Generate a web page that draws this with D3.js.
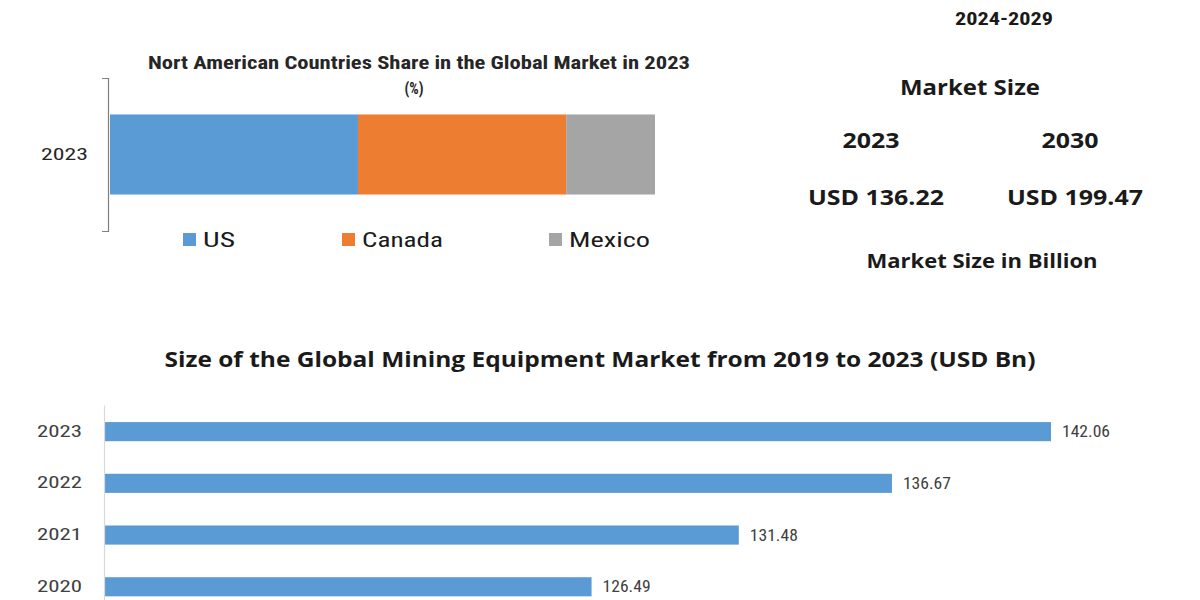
<!DOCTYPE html>
<html>
<head>
<meta charset="utf-8">
<script src="https://cdn.jsdelivr.net/npm/d3@7"></script>
<style>
  html, body { margin: 0; padding: 0; background: #ffffff; }
  svg { display: block; }
</style>
</head>
<body>
<svg id="chart" width="1200" height="600"></svg>
<script>
// ---------- data ----------
const shareYears = ["2023"];
const shareSeries = ["US", "Canada", "Mexico"];
const shareValues = [45.5, 38.2, 16.3];           // % share in 2023
const shareColors = ["#5B9BD5", "#ED7D31", "#A5A5A5"];

const sizeYears = ["2023", "2022", "2021", "2020"];
const sizeValues = [142.06, 136.67, 131.48, 126.49];   // USD Bn
const sizeLabels = ["142.06", "136.67", "131.48", "126.49"];

const periodLabel = "2024-2029";
const marketYears = ["2023", "2030"];
const marketValues = ["USD 136.22", "USD 199.47"];

// ---------- setup ----------
const svg = d3.select("#chart");
const narrow = "'Liberation Sans Narrow', 'Roboto Condensed', 'Arial Narrow', 'Liberation Sans', sans-serif";
const wide = "'Open Sans', 'Noto Sans', sans-serif";

function txt(g, s, x, y, opt) {
  const t = g.append("text")
    .attr("x", x).attr("y", y)
    .attr("text-anchor", opt.anchor || "middle")
    .attr("dominant-baseline", "central")
    .attr("font-family", opt.family || narrow)
    .attr("font-size", opt.size)
    .attr("font-weight", opt.weight || "normal")
    .attr("fill", opt.fill || "#1a1a1a")
    .text(s);
  if (opt.len) t.attr("textLength", opt.len).attr("lengthAdjust", "spacingAndGlyphs");
  return t;
}

// ---------- top: stacked share bar ----------
const gTop = svg.append("g");
const xs = d3.scaleLinear().domain([0, 100]).range([110, 655]);
const ys = d3.scaleBand().domain(shareYears).range([78, 231]).paddingInner(0.313).paddingOuter(0.313);

const rows = [Object.fromEntries(shareSeries.map((s, i) => [s, shareValues[i]]))];
rows[0].year = shareYears[0];
const stacked = d3.stack().keys(shareSeries)(rows);

gTop.selectAll("g.layer").data(stacked).join("g")
  .attr("class", "layer")
  .attr("fill", (d, i) => shareColors[i])
  .selectAll("rect").data(d => d).join("rect")
  .attr("x", d => xs(d[0]))
  .attr("width", d => xs(d[1]) - xs(d[0]))
  .attr("y", d => ys(d.data.year))
  .attr("height", ys.bandwidth());

const yAxisTop = gTop.append("g").attr("transform", `translate(${xs(0) - 2},0)`)
  .call(d3.axisLeft(ys).tickSizeInner(0).tickSizeOuter(6).tickPadding(20));
yAxisTop.select(".domain").attr("stroke", "#7f7f7f").attr("stroke-width", 1.2);
yAxisTop.selectAll("text")
  .attr("font-family", narrow).attr("font-size", 17).attr("fill", "#262626")
  .attr("textLength", 47).attr("lengthAdjust", "spacingAndGlyphs");

txt(gTop, "Nort American Countries Share in the Global Market in 2023", 419, 62,
  { size: 19, weight: "bold", len: 542, fill: "#262626" });
txt(gTop, "(%)", 414, 88, { size: 16, weight: "bold", len: 19, fill: "#262626" });

// legend
const legendX = [183, 342, 549];
const legendTextW = [32, 81, 81];
const leg = gTop.selectAll("g.leg").data(shareSeries).join("g").attr("class", "leg")
  .attr("transform", (d, i) => `translate(${legendX[i]},240)`);
leg.append("rect").attr("x", 0).attr("y", -7).attr("width", 13).attr("height", 13)
  .attr("fill", (d, i) => shareColors[i]);
leg.each(function (d, i) {
  txt(d3.select(this), d, 20, 0, { size: 21, anchor: "start", len: legendTextW[i], fill: "#1a1a1a" });
});

// ---------- right panel ----------
const gRight = svg.append("g");
txt(gRight, periodLabel, 1004, 18, { size: 18, weight: "bold", len: 98 });
txt(gRight, "Market Size", 970, 87, { family: wide, size: 21, weight: "bold", len: 140 });
const mx = [871, 1070];
const vx = [876, 1075];
marketYears.forEach((y, i) => {
  txt(gRight, y, mx[i], 140, { family: wide, size: 21, weight: "bold", len: 57 });
  txt(gRight, marketValues[i], vx[i], 197, { family: wide, size: 21, weight: "bold", len: 136 });
});
txt(gRight, "Market Size in Billion", 982, 261, { family: wide, size: 19, weight: "bold", len: 231 });

// ---------- bottom: market size bars ----------
const gBot = svg.append("g");
txt(gBot, "Size of the Global Mining Equipment Market from 2019 to 2023 (USD Bn)", 600, 359,
  { family: wide, size: 21, weight: "bold", len: 871 });

const xb = d3.scaleLinear().domain([110, 142.06]).range([105, 1051]);
const yb = d3.scaleBand().domain(sizeYears).range([405, 613.4]).paddingInner(0.63).paddingOuter(0.33);

gBot.selectAll("rect.bar").data(sizeYears).join("rect")
  .attr("class", "bar")
  .attr("x", xb(110))
  .attr("y", d => yb(d))
  .attr("width", (d, i) => xb(sizeValues[i]) - xb(110))
  .attr("height", yb.bandwidth())
  .attr("fill", "#5B9BD5");

gBot.selectAll("text.val").data(sizeYears).join("text")
  .attr("class", "val")
  .attr("x", (d, i) => xb(sizeValues[i]) + 11)
  .attr("y", d => yb(d) + yb.bandwidth() / 2)
  .attr("dominant-baseline", "central")
  .attr("font-family", narrow).attr("font-size", 16).attr("fill", "#404040")
  .attr("textLength", 48).attr("lengthAdjust", "spacingAndGlyphs")
  .text((d, i) => sizeLabels[i]);

const yAxisBot = gBot.append("g").attr("transform", `translate(${xb(110) - 1},0)`)
  .call(d3.axisLeft(yb).tickSizeInner(0).tickSizeOuter(0).tickPadding(22));
yAxisBot.select(".domain").attr("stroke", "#d9d9d9").attr("stroke-width", 1.2);
yAxisBot.selectAll("text")
  .attr("font-family", narrow).attr("font-size", 16).attr("fill", "#404040")
  .attr("textLength", 45).attr("lengthAdjust", "spacingAndGlyphs");
</script>
</body>
</html>
